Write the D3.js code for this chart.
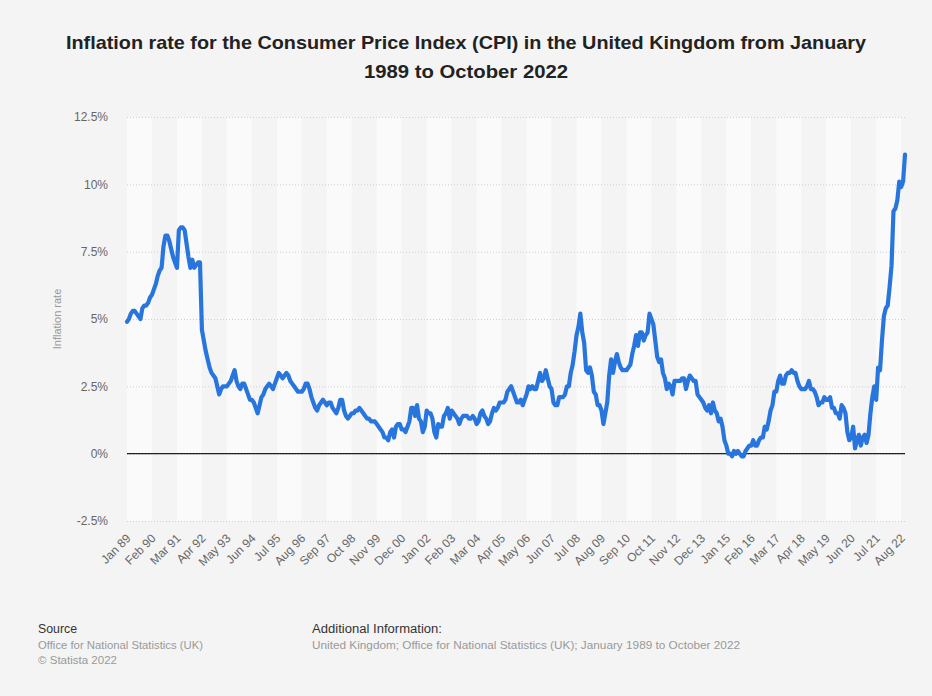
<!DOCTYPE html>
<html>
<head>
<meta charset="utf-8">
<script src="https://cdn.jsdelivr.net/npm/d3@7"></script>
<style>
  html, body { margin: 0; padding: 0; background: #f4f4f4; }
  svg { display: block; font-family: "Liberation Sans", Arial, sans-serif; }
</style>
</head>
<body>
<svg id="chart" width="932" height="696"></svg>
<script>
// UK CPI 12-month inflation rate (%), monthly from January 1989 to October 2022
const startYear = 1989;
const cpiRates = [
  // 1989
  4.9, 5.0, 5.2, 5.3, 5.3, 5.2, 5.1, 5.0, 5.4, 5.5, 5.5, 5.6,
  // 1990
  5.8, 5.9, 6.1, 6.3, 6.6, 6.8, 6.9, 7.7, 8.1, 8.1, 7.9, 7.6,
  // 1991
  7.3, 7.1, 6.9, 8.3, 8.4, 8.4, 8.3, 7.8, 7.3, 6.9, 7.2, 6.9,
  // 1992
  7.0, 7.1, 7.1, 4.6, 4.2, 3.8, 3.5, 3.2, 3.0, 2.9, 2.8, 2.5,
  // 1993
  2.2, 2.4, 2.5, 2.5, 2.5, 2.6, 2.7, 2.9, 3.1, 2.7, 2.5, 2.4,
  // 1994
  2.6, 2.6, 2.4, 2.2, 2.0, 2.0, 1.9, 1.7, 1.5, 1.8, 2.1, 2.2,
  // 1995
  2.4, 2.5, 2.6, 2.5, 2.4, 2.6, 2.8, 3.0, 2.9, 2.8, 2.9, 3.0,
  // 1996
  2.9, 2.7, 2.6, 2.5, 2.4, 2.3, 2.3, 2.3, 2.4, 2.6, 2.6, 2.4,
  // 1997
  2.1, 1.9, 1.7, 1.6, 1.8, 1.9, 2.0, 1.9, 1.8, 1.9, 1.9, 1.7,
  // 1998
  1.6, 1.5, 1.7, 2.0, 2.0, 1.6, 1.4, 1.3, 1.4, 1.5, 1.5, 1.6,
  // 1999
  1.6, 1.7, 1.6, 1.5, 1.4, 1.3, 1.3, 1.2, 1.2, 1.2, 1.1, 1.0,
  // 2000
  0.9, 0.8, 0.6, 0.6, 0.5, 0.8, 0.9, 0.6, 1.0, 1.1, 1.1, 0.9,
  // 2001
  0.9, 0.8, 1.0, 1.2, 1.7, 1.7, 1.4, 1.8, 1.3, 1.2, 0.8, 1.0,
  // 2002
  1.6, 1.5, 1.5, 1.3, 0.8, 0.6, 1.1, 1.0, 1.0, 1.4, 1.5, 1.7,
  // 2003
  1.3, 1.6, 1.5, 1.4, 1.3, 1.1, 1.3, 1.4, 1.4, 1.4, 1.3, 1.3,
  // 2004
  1.4, 1.3, 1.1, 1.2, 1.5, 1.6, 1.4, 1.3, 1.1, 1.2, 1.5, 1.7,
  // 2005
  1.6, 1.7, 1.9, 1.9, 1.9, 2.0, 2.3, 2.4, 2.5, 2.3, 2.1, 1.9,
  // 2006
  1.9, 2.0, 1.8, 2.0, 2.2, 2.5, 2.4, 2.5, 2.4, 2.4, 2.7, 3.0,
  // 2007
  2.7, 2.8, 3.1, 2.8, 2.5, 2.4, 1.9, 1.8, 1.8, 2.1, 2.1, 2.1,
  // 2008
  2.2, 2.5, 2.5, 3.0, 3.3, 3.8, 4.4, 4.7, 5.2, 4.5, 4.1, 3.1,
  // 2009
  3.0, 3.2, 2.9, 2.3, 2.2, 1.8, 1.8, 1.6, 1.1, 1.5, 1.9, 2.9,
  // 2010
  3.5, 3.0, 3.4, 3.7, 3.4, 3.2, 3.1, 3.1, 3.1, 3.2, 3.3, 3.7,
  // 2011
  4.0, 4.4, 4.0, 4.5, 4.5, 4.2, 4.4, 4.5, 5.2, 5.0, 4.8, 4.2,
  // 2012
  3.6, 3.4, 3.5, 3.0, 2.8, 2.4, 2.6, 2.5, 2.2, 2.7, 2.7, 2.7,
  // 2013
  2.7, 2.8, 2.8, 2.4, 2.7, 2.9, 2.8, 2.7, 2.7, 2.2, 2.1, 2.0,
  // 2014
  1.9, 1.7, 1.6, 1.8, 1.5, 1.9, 1.6, 1.5, 1.2, 1.3, 1.0, 0.5,
  // 2015
  0.3, 0.0, 0.0, -0.1, 0.1, 0.0, 0.1, 0.0, -0.1, -0.1, 0.1, 0.2,
  // 2016
  0.3, 0.3, 0.5, 0.3, 0.3, 0.5, 0.6, 0.6, 1.0, 0.9, 1.2, 1.6,
  // 2017
  1.8, 2.3, 2.3, 2.7, 2.9, 2.6, 2.6, 2.9, 3.0, 3.0, 3.1, 3.0,
  // 2018
  3.0, 2.7, 2.5, 2.4, 2.4, 2.4, 2.5, 2.7, 2.4, 2.4, 2.3, 2.1,
  // 2019
  1.8, 1.9, 1.9, 2.1, 2.0, 2.0, 2.1, 1.7, 1.7, 1.5, 1.5, 1.3,
  // 2020
  1.8, 1.7, 1.5, 0.8, 0.5, 0.6, 1.0, 0.2, 0.5, 0.7, 0.3, 0.6,
  // 2021
  0.7, 0.4, 0.7, 1.5, 2.1, 2.5, 2.0, 3.2, 3.1, 4.2, 5.1, 5.4,
  // 2022
  5.5, 6.2, 7.0, 9.0, 9.1, 9.4, 10.1, 9.9, 10.1, 11.1
];

const monthNames = ["Jan","Feb","Mar","Apr","May","Jun","Jul","Aug","Sep","Oct","Nov","Dec"];
const xTickLabels = [
  "Jan 89","Feb 90","Mar 91","Apr 92","May 93","Jun 94","Jul 95","Aug 96",
  "Sep 97","Oct 98","Nov 99","Dec 00","Jan 02","Feb 03","Mar 04","Apr 05",
  "May 06","Jun 07","Jul 08","Aug 09","Sep 10","Oct 11","Nov 12","Dec 13",
  "Jan 15","Feb 16","Mar 17","Apr 18","May 19","Jun 20","Jul 21","Aug 22"
];
const yTickValues = [-2.5, 0, 2.5, 5, 7.5, 10, 12.5];
const yTickLabels = ["-2.5%", "0%", "2.5%", "5%", "7.5%", "10%", "12.5%"];

const titleLines = [
  "Inflation rate for the Consumer Price Index (CPI) in the United Kingdom from January",
  "1989 to October 2022"
];
const titleWidths = [800, 204];

// month-by-month records
const data = cpiRates.map((v, i) => ({
  i,
  label: monthNames[i % 12] + " " + String((startYear + Math.floor(i / 12)) % 100).padStart(2, "0"),
  value: v
}));

const svg = d3.select("#chart");
const plot = { left: 127, right: 905, top: 117, bottom: 521 };

const x = d3.scaleLinear().domain([0, data.length - 1]).range([plot.left, plot.right]);
const y = d3.scaleLinear().domain([-2.5, 12.5]).range([plot.bottom, plot.top]);

// tick positions: every 13th month
const tickIdx = xTickLabels.map((_, k) => k * 13);

// alternating column bands
const bandEdges = tickIdx.concat([data.length - 1]);
svg.append("g").selectAll("rect")
  .data(d3.pairs(bandEdges))
  .join("rect")
  .attr("x", d => x(d[0]))
  .attr("width", d => x(d[1]) - x(d[0]))
  .attr("y", plot.top)
  .attr("height", plot.bottom - plot.top)
  .attr("fill", (d, k) => k % 2 === 0 ? "#fafafa" : "#f4f4f4");

// horizontal dotted grid + y labels
const yAxis = d3.axisLeft(y)
  .tickValues(yTickValues)
  .tickFormat((d, k) => yTickLabels[k])
  .tickSize(-(plot.right - plot.left))
  .tickPadding(19);
const gy = svg.append("g").attr("transform", `translate(${plot.left},0)`).call(yAxis);
gy.select(".domain").remove();
gy.selectAll(".tick line")
  .attr("stroke", "#cfcfcf")
  .attr("stroke-width", 1)
  .attr("stroke-dasharray", "1,2");
gy.selectAll(".tick text")
  .attr("fill", "#666")
  .style("font-size", "12px")
  .style("font-family", "'Liberation Sans', Arial, sans-serif");

// zero baseline
svg.append("line")
  .attr("x1", plot.left).attr("x2", plot.right)
  .attr("y1", y(0)).attr("y2", y(0))
  .attr("stroke", "#222").attr("stroke-width", 1.2);

// x axis with rotated labels
const xAxis = d3.axisBottom(x)
  .tickValues(tickIdx)
  .tickFormat((d, k) => xTickLabels[k])
  .tickSize(0);
const gx = svg.append("g").attr("transform", `translate(0,${plot.bottom})`).call(xAxis);
gx.select(".domain").remove();
gx.selectAll(".tick text")
  .attr("fill", "#666")
  .style("font-size", "12px")
  .style("font-family", "'Liberation Sans', Arial, sans-serif")
  .attr("text-anchor", "end")
  .attr("y", 0).attr("dy", 0)
  .attr("transform", "translate(4,18) rotate(-45)");

// y-axis title
svg.append("text")
  .attr("transform", `translate(61,${(plot.top + plot.bottom) / 2}) rotate(-90)`)
  .attr("text-anchor", "middle")
  .attr("fill", "#999")
  .style("font-size", "11px")
  .text("Inflation rate");

// inflation line
const line = d3.line().x(d => x(d.i)).y(d => y(d.value)).curve(d3.curveLinear);
svg.append("path")
  .datum(data)
  .attr("d", line)
  .attr("fill", "none")
  .attr("stroke", "#2876dd")
  .attr("stroke-width", 4.2)
  .attr("stroke-linejoin", "round")
  .attr("stroke-linecap", "round");

// title
const title = svg.append("g");
title.selectAll("text")
  .data(titleLines)
  .join("text")
  .attr("x", 466)
  .attr("y", (d, k) => 49 + k * 29)
  .attr("text-anchor", "middle")
  .attr("fill", "#222")
  .attr("textLength", (d, k) => titleWidths[k])
  .attr("lengthAdjust", "spacingAndGlyphs")
  .style("font-size", "19px")
  .style("font-weight", "bold")
  .text(d => d);

// footer
function footerText(tx, ty, str, size, color, width) {
  const t = svg.append("text")
    .attr("x", tx).attr("y", ty)
    .attr("fill", color)
    .style("font-size", size + "px")
    .text(str);
  if (width) t.attr("textLength", width).attr("lengthAdjust", "spacingAndGlyphs");
  return t;
}
footerText(38, 633, "Source", 12, "#333", 39);
footerText(38, 649, "Office for National Statistics (UK)", 11.5, "#999", 165);
footerText(38, 664, "\u00A9 Statista 2022", 11.5, "#999", 79);
footerText(312, 633, "Additional Information:", 12, "#333", 130);
footerText(312, 649, "United Kingdom; Office for National Statistics (UK); January 1989 to October 2022", 11.5, "#999", 428);
</script>
</body>
</html>
